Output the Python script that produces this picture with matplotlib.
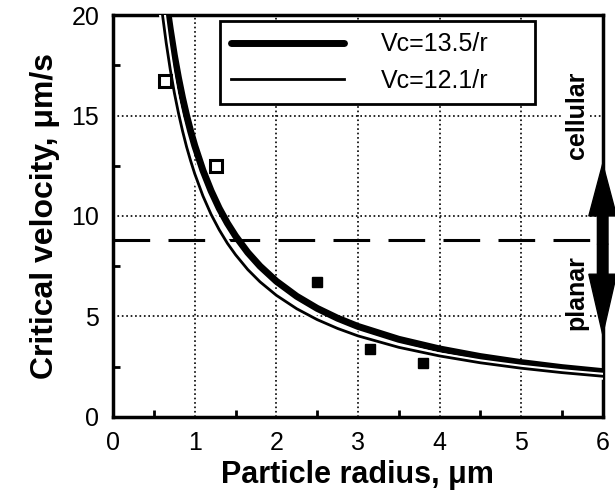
import matplotlib
matplotlib.use("Agg")
import matplotlib.pyplot as plt
import matplotlib.patheffects as pe
from matplotlib.ticker import MultipleLocator

plt.rcParams['font.family'] = ['Liberation Sans', 'DejaVu Sans']

# ---- data ----
# thick curve, Vc = 13.5/r
r_thick = [0.675, 0.7, 0.75, 0.8, 0.85, 0.9, 0.95, 1.0, 1.1, 1.2, 1.3, 1.4, 1.5,
           1.65, 1.8, 2.0, 2.25, 2.5, 2.75, 3.0, 3.5, 4.0, 4.5, 5.0, 5.5, 6.0]
v_thick = [20.0, 19.29, 18.0, 16.88, 15.88, 15.0, 14.21, 13.5, 12.27, 11.25, 10.38, 9.64, 9.0,
           8.18, 7.5, 6.75, 6.0, 5.4, 4.91, 4.5, 3.86, 3.38, 3.0, 2.7, 2.45, 2.25]
# thin curve, Vc = 12.1/r
r_thin = [0.605, 0.65, 0.7, 0.75, 0.8, 0.85, 0.9, 0.95, 1.0, 1.1, 1.2, 1.3, 1.4, 1.5,
          1.65, 1.8, 2.0, 2.25, 2.5, 2.75, 3.0, 3.5, 4.0, 4.5, 5.0, 5.5, 6.0]
v_thin = [20.0, 18.62, 17.29, 16.13, 15.13, 14.24, 13.44, 12.74, 12.1, 11.0, 10.08, 9.31, 8.64, 8.07,
          7.33, 6.72, 6.05, 5.38, 4.84, 4.4, 4.03, 3.46, 3.03, 2.69, 2.42, 2.2, 2.02]
# measured points
r_open = [0.64, 1.26]
v_open = [16.7, 12.5]
r_fill = [2.5, 3.15, 3.8]
v_fill = [6.7, 3.4, 2.7]

v_transition = 8.8
legend_labels = ["Vc=13.5/r", "Vc=12.1/r"]

fig = plt.figure(figsize=(6.15, 5.04), dpi=100)
ax = fig.add_axes([0.184, 0.173, 0.796, 0.797])

ax.set_xlim(0, 6)
ax.set_ylim(0, 20)

ax.grid(True, which='major', linestyle=':', color='black', linewidth=1.2)
ax.set_axisbelow(True)

ax.axhline(v_transition, color='black', linewidth=2.2, dashes=(12, 6), zorder=2)

l1, = ax.plot(r_thick, v_thick, color='black', linewidth=5, zorder=3,
              solid_capstyle='round')
l2, = ax.plot(r_thin, v_thin, color='black', linewidth=2, zorder=4,
              path_effects=[pe.Stroke(linewidth=5, foreground='white'), pe.Normal()])

ax.plot(r_open, v_open, 's', markersize=8.5, markerfacecolor='white',
        markeredgecolor='black', markeredgewidth=2.2, zorder=5, clip_on=False)
ax.plot(r_fill, v_fill, 's', markersize=7, markerfacecolor='black',
        markeredgecolor='black', zorder=5)

# double arrow on the right edge
ax.arrow(6.0, 8.6, 0, 4.0, width=0.13, head_width=0.34, head_length=2.6,
         length_includes_head=True, color='black', clip_on=False, zorder=6)
ax.arrow(6.0, 8.6, 0, -4.5, width=0.13, head_width=0.34, head_length=3.0,
         length_includes_head=True, color='black', clip_on=False, zorder=6)

ax.text(5.68, 15.0, "cellular", rotation=90, ha='center', va='center',
        fontsize=18, fontweight='bold', zorder=5,
        bbox=dict(facecolor='white', edgecolor='none', pad=1))
ax.text(5.68, 6.2, "planar", rotation=90, ha='center', va='center',
        fontsize=18, fontweight='bold', zorder=5,
        bbox=dict(facecolor='white', edgecolor='none', pad=1))

leg = ax.legend([l1, l2], legend_labels, loc='upper left',
                bbox_to_anchor=(0.218, 0.985, 0.643, 0.0), mode='expand',
                borderaxespad=0, fontsize=18, handlelength=4.5,
                handletextpad=1.5, labelspacing=0.5, fancybox=False,
                framealpha=1, edgecolor='black', borderpad=0.45)
leg.get_frame().set_linewidth(2)
leg.set_zorder(7)

ax.xaxis.set_major_locator(MultipleLocator(1))
ax.yaxis.set_major_locator(MultipleLocator(5))
ax.xaxis.set_minor_locator(MultipleLocator(0.5))
ax.yaxis.set_minor_locator(MultipleLocator(2.5))
ax.tick_params(which='major', length=0, labelsize=18, pad=10)
ax.tick_params(which='minor', direction='in', length=5, width=2)

for s in ax.spines.values():
    s.set_linewidth(2.5)

ax.set_xlabel("Particle radius, μm", fontsize=22, fontweight='bold', labelpad=4)
ax.set_ylabel("Critical velocity, μm/s", fontsize=23, fontweight='bold', labelpad=8)

fig.savefig("out.png", dpi=100)
